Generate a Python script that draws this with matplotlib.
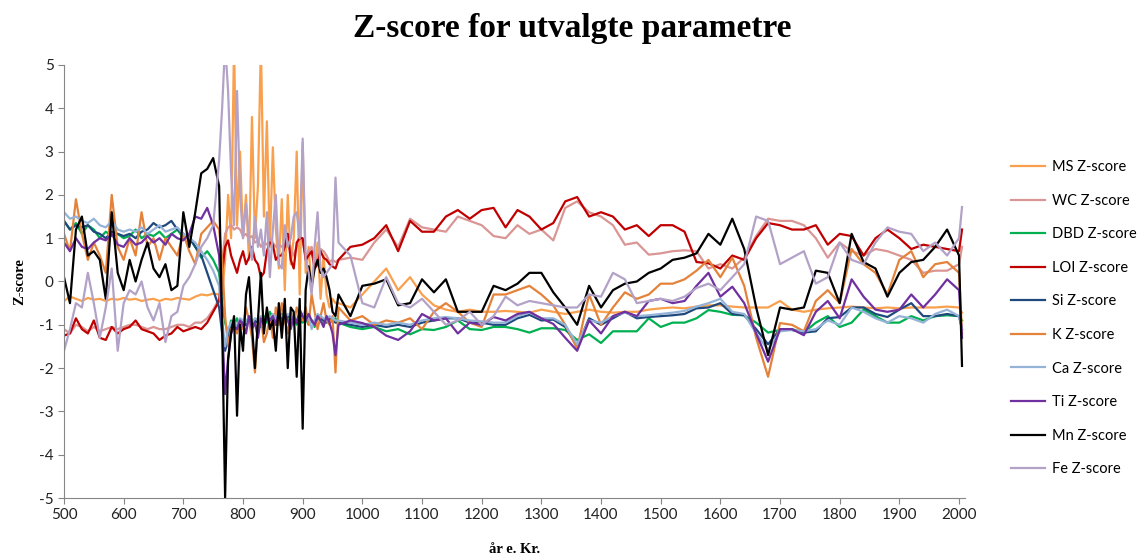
import matplotlib
matplotlib.use("Agg")
import matplotlib.pyplot as plt

plt.rcParams["axes.unicode_minus"] = False

# sample years: dense part up to 760, 5-yr part 765-955, 20-yr part from 960
years = (list(range(500, 761, 10)) + list(range(765, 956, 5))
         + list(range(960, 2001, 20)) + [2005])

ms_z = [-0.45, -0.35, -0.4, -0.45, -0.38, -0.42, -0.4, -0.45, -0.4, -0.42,
        -0.38, -0.42, -0.4, -0.45, -0.42, -0.4, -0.45, -0.4, -0.42, -0.38,
        -0.4, -0.42, -0.35, -0.3, -0.32, -0.28, -0.3,
        -0.3, 0.5, 2.0, 1.0, 5.5, 1.3, 3.0, 1.0, 2.0, 0.5,
        3.8, 1.0, 2.2, 5.5, 1.5, 3.7, 0.8, 3.1, 1.2, 0.3,
        1.9, -0.2, 2.0, 0.4, 1.0, 3.0, -0.3, 3.2, 0.2, 0.8,
        -0.2, 0.3, 0.9, -0.4, 0.6, -0.3, -0.6, -0.4, -0.5,
        -0.5, -0.6, -0.3, 0.0, 0.3, -0.2, 0.1, -0.3, -0.55, -0.65,
        -0.7, -0.65, -0.7, -0.7, -0.68, -0.7, -0.72, -0.65, -0.7, -0.75,
        -0.7, -0.65, -0.7, -0.72, -0.7, -0.7, -0.65, -0.62, -0.6, -0.62,
        -0.58, -0.55, -0.55, -0.58, -0.6, -0.6, -0.6, -0.45, -0.65, -0.7,
        -0.65, -0.62, -0.6, -0.58, -0.6, -0.62, -0.6, -0.62, -0.6, -0.6,
        -0.6, -0.58, -0.6, -0.72]

wc_z = [-1.1, -1.2, -1.0, -1.05, -1.15, -1.05, -1.15, -1.1, -1.05, -1.1,
        -1.05, -1.0, -1.0, -1.05, -1.1, -1.05, -1.1, -1.1, -1.05, -1.0,
        -1.0, -1.05, -0.95, -0.95, -0.85, -0.65, -0.4,
        0.4, 1.1, 1.25, 1.3, 1.2, 1.25, 1.2, 1.05, 1.1, 1.0,
        1.05, 0.9, 0.95, 0.8, 0.9, 0.85, 1.0, 0.9, 0.8, 0.85,
        0.8, 0.9, 1.1, 0.75, 0.6, 0.8, 1.05, 0.9, 0.6, 0.7,
        0.8, 0.5, 0.55, 0.75, 0.7, 0.6, 0.45, 0.5, 0.45,
        0.5, 0.55, 0.5, 0.9, 1.2, 0.8, 1.45, 1.25, 1.2, 1.15,
        1.5, 1.4, 1.3, 1.05, 1.0, 1.3, 1.1, 1.2, 0.95, 1.7,
        1.85, 1.6, 1.5, 1.3, 0.85, 0.9, 0.62, 0.65, 0.7, 0.72,
        0.7, 0.3, 0.4, 0.3, 0.55, 1.05, 1.45, 1.4, 1.4, 1.3,
        1.0, 0.55, 0.9, 0.7, 0.6, 0.75, 0.7, 0.6, 0.5, 0.2,
        0.25, 0.25, 0.4, 0.8]

dbd_z = [1.4, 1.2, 1.35, 1.1, 1.3, 1.2, 1.0, 1.15, 1.05, 1.1,
         1.0, 1.05, 1.2, 1.0, 1.1, 1.05, 1.15, 1.0, 1.1, 1.2,
         1.0, 1.05, 0.8, 0.55, 0.7, 0.5, 0.2,
         -0.5, -0.95, -1.2, -0.9, -1.0, -0.85, -1.1, -0.9, -1.0, -0.8,
         -1.1, -0.9, -0.85, -1.05, -0.8, -0.95, -0.7, -0.85, -1.0, -0.8,
         -0.75, -0.9, -0.8, -1.0, -0.85, -1.0, -0.9, -0.95, -0.85, -1.0,
         -0.9, -1.05, -0.85, -0.9, -1.0, -0.8, -0.95, -0.9, -0.85,
         -0.95, -1.05, -1.1, -1.05, -1.15, -1.1, -1.22, -1.1, -1.12, -1.05,
         -0.9, -1.1, -1.12, -1.05, -1.05, -1.1, -1.18, -1.08, -1.08, -1.12,
         -1.35, -1.22, -1.42, -1.15, -1.15, -1.15, -0.85, -1.05, -0.95, -0.95,
         -0.85, -0.66, -0.7, -0.77, -0.78, -0.95, -1.18, -1.12, -1.1, -1.18,
         -0.95, -0.8, -1.05, -0.95, -0.65, -0.8, -0.95, -0.95, -0.8, -0.9,
         -0.8, -0.78, -0.8, -0.9]

loi_z = [-1.25, -1.2, -0.85, -1.1, -1.2, -0.9, -1.3, -1.35, -1.05, -1.2,
         -1.1, -1.05, -0.9, -1.1, -1.15, -1.2, -1.35, -1.25, -1.2, -1.05,
         -1.15, -1.1, -1.05, -1.1, -0.95, -0.7, -0.45,
         0.2, 0.8, 0.95, 0.6, 0.4, 0.2, 0.5, 0.7, 0.4, 0.55,
         0.8, 0.5, 0.4, 0.1, 0.2, 0.7, 0.9, 0.85, 0.5, 0.6,
         0.6, 0.8, 1.1, 0.5, 0.3, 0.9, 1.0, 1.0, 0.5, 0.6,
         0.7, 0.3, 0.4, 0.7, 0.55, 0.5, 0.4, 0.35, 0.3,
         0.5, 0.8, 0.85, 1.0, 1.3, 0.7, 1.4, 1.15, 1.15, 1.5,
         1.65, 1.45, 1.65, 1.7, 1.25, 1.65, 1.5, 1.2, 1.35, 1.85,
         1.95, 1.5, 1.6, 1.5, 1.2, 1.3, 1.05, 1.3, 1.3, 1.15,
         0.45, 0.42, 0.3, 0.6, 0.5, 1.0, 1.35, 1.3, 1.2, 1.2,
         1.3, 0.85, 1.1, 1.05, 0.6, 1.0, 1.2, 1.0, 0.75, 0.85,
         0.8, 0.75, 0.7, 1.2]

si_z = [1.4, 1.2, 1.3, 1.25, 1.3, 1.15, 1.1, 1.0, 1.15, 1.1,
        1.05, 1.1, 1.0, 1.15, 1.2, 1.35, 1.25, 1.3, 1.4, 1.2,
        1.1, 1.0, 0.8, 0.6, 0.2, -0.2, -0.6,
        -1.2, -1.6, -1.3, -1.0, -0.95, -1.1, -0.9, -0.95, -1.0, -0.85,
        -1.0, -0.9, -0.95, -0.85, -0.95, -0.85, -0.9, -0.8, -0.9, -0.8,
        -0.85, -0.9, -0.8, -0.85, -0.9, -0.95, -0.8, -0.8, -0.9, -0.85,
        -0.9, -0.95, -0.8, -0.85, -0.9, -0.95, -0.85, -0.9, -0.95,
        -0.95, -1.0, -1.05, -1.0, -1.05, -1.0, -1.05, -0.95, -0.9, -0.85,
        -0.85, -0.95, -0.95, -1.0, -1.0, -0.85, -0.77, -0.9, -0.88, -1.05,
        -1.5, -0.85, -1.0, -0.85, -0.7, -0.85, -0.82, -0.8, -0.78, -0.75,
        -0.62, -0.6, -0.5, -0.75, -0.78, -1.1, -1.45, -1.1, -1.12, -1.18,
        -1.15, -0.85, -0.82, -0.6, -0.6, -0.75, -0.82, -0.65, -0.5, -0.8,
        -0.8, -0.75, -0.8, -1.1]

k_z = [1.1, 0.7, 1.9, 1.1, 0.5, 0.9, 0.6, 0.2, 2.0, 0.8,
       0.5, 1.0, 0.6, 1.6, 0.8, 1.0, 0.5, 1.0, 0.8, 0.6,
       1.1, 0.7, 0.4, 1.1, 1.25, 1.4, 1.2,
       0.5, -0.8, -1.5, -1.1, -1.0, -1.2, -0.9, -1.1, -0.6, -0.9,
       -1.3, -2.1, -1.0, -0.8, -1.4, -1.2, -0.8, -1.3, -0.6, -1.0,
       -0.5, -0.9, -1.2, -0.7, -1.0, -0.6, -0.8, -0.9, -0.6, -1.0,
       -0.3, -0.7, -1.1, -0.8, -0.5, -0.9, -1.0, -0.8, -2.1,
       -0.6, -0.9, -0.8, -1.0, -0.9, -0.95, -0.85, -1.1, -0.7, -0.5,
       -0.7, -0.95, -1.05, -0.3, -0.3, -0.2, -0.1, -0.3, -0.55, -1.0,
       -1.55, -0.3, -1.0, -0.6, -0.25, -0.4, -0.3, -0.05, -0.05, 0.05,
       0.25, 0.5, 0.1, 0.55, -0.1, -1.3, -2.2, -0.96, -1.0, -1.15,
       -0.45, -0.2, -0.5, 0.75, 0.4, 0.2, -0.3, 0.5, 0.7, 0.1,
       0.4, 0.45, 0.2, -1.2]

ca_z = [1.6, 1.45, 1.5, 1.4, 1.35, 1.45, 1.3, 1.25, 1.4, 1.2,
        1.15, 1.2, 1.15, 1.25, 1.1, 1.2, 1.3, 1.15, 1.2, 1.25,
        1.1, 1.0, 0.9, 0.7, 0.5, 0.25, -0.1,
        -0.9, -1.5, -1.1, -0.95, -0.9, -1.05, -0.85, -0.9, -0.95, -0.8,
        -0.95, -0.85, -0.9, -0.8, -0.9, -0.8, -0.85, -0.75, -0.85, -0.75,
        -0.8, -0.85, -0.75, -0.8, -0.85, -0.9, -0.75, -0.75, -0.85, -0.8,
        -1.1, -0.9, -0.75, -0.8, -0.85, -0.9, -0.8, -0.85, -0.9,
        -0.9, -0.95, -1.0, -0.95, -1.0, -0.95, -1.0, -0.9, -0.85, -0.82,
        -0.85, -0.9, -0.92, -0.95, -0.95, -0.8, -0.72, -0.85, -0.85, -1.0,
        -1.45, -0.9, -0.95, -0.8, -0.72, -0.8, -0.78, -0.75, -0.72, -0.68,
        -0.58, -0.5, -0.4, -0.7, -0.75, -1.2, -1.58, -1.15, -1.12, -1.15,
        -1.1, -0.9, -1.0, -0.6, -0.7, -0.85, -0.95, -0.8, -0.85, -0.95,
        -0.75, -0.65, -0.8, -1.1]

ti_z = [0.9, 0.7, 1.0, 0.8, 0.75, 0.9, 1.0, 0.95, 1.1, 0.85,
        0.8, 1.0, 0.85, 0.9, 1.05, 0.9, 1.0, 0.85, 1.1, 1.0,
        0.95, 1.1, 1.5, 1.45, 1.7, 1.3, 0.6,
        -1.0, -2.6, -1.8, -1.2, -1.05, -1.1, -0.9, -1.0, -1.2, -0.8,
        -1.1, -0.95, -1.3, -0.85, -1.0, -0.75, -0.9, -0.8, -1.0, -0.7,
        -1.0, -0.75, -0.9, -1.1, -0.8, -0.95, -0.65, -0.8, -0.9, -0.75,
        -0.9, -1.0, -0.8, -0.9, -1.05, -0.8, -0.95, -1.2, -1.7,
        -1.0, -0.9, -0.96, -1.05, -1.25, -1.35, -1.15, -0.75, -0.9, -0.85,
        -1.2, -0.95, -1.0, -0.82, -0.9, -0.75, -0.7, -0.85, -0.98, -1.3,
        -1.6, -0.9, -1.2, -0.8, -0.7, -0.8, -0.45, -0.4, -0.5, -0.45,
        -0.1, 0.2, -0.35, -0.12, -0.5, -1.2, -1.85, -1.1, -1.1, -1.24,
        -0.7, -0.45, -0.85, 0.05, -0.35, -0.65, -0.7, -0.65, -0.3, -0.6,
        -0.3, 0.05, -0.2, -1.3]

mn_z = [0.1, -0.5, 1.2, 1.5, 0.6, 0.7, 0.5, -0.4, 1.6, 0.2,
        -0.2, 0.5, 0.0, 0.5, 0.9, 0.3, 0.1, 0.4, -0.2, -0.1,
        1.6, 0.8, 1.6, 2.5, 2.6, 2.85, 2.2,
        -1.0, -5.0, -1.8, -1.2, -0.8, -3.1, -1.0, -1.6, -0.3, 0.1,
        -1.0, -2.0, -0.9, 0.2, -1.2, -0.6, -1.1, -0.9, -1.6, -0.5,
        -1.3, -0.4, -2.0, -0.6, -0.7, -2.2, -0.4, -3.4, -0.2, 0.35,
        -0.1, 0.3, 0.5, 0.2, 0.3, 0.1, -0.2, -0.7, -0.8,
        -0.3, -0.8, -0.1, -0.05, 0.05, -0.55, -0.5, 0.05, -0.25, 0.05,
        -0.7, -0.7, -0.7, -0.1, -0.2, -0.05, 0.2, 0.2, -0.25, -0.6,
        -1.0, -0.1, -0.6, -0.2, -0.05, 0.0, 0.2, 0.3, 0.5, 0.55,
        0.65, 1.1, 0.85, 1.45, 0.75, -0.6, -1.7, -0.6, -0.65, -0.6,
        0.25, 0.2, -0.5, 1.1, 0.45, 0.3, -0.35, 0.2, 0.45, 0.5,
        0.8, 1.2, 0.6, -1.95]

fe_z = [-1.6, -1.1, -0.5, -0.6, 0.2, -0.5, -1.3, -0.6, 0.3, -1.6,
        -0.5, -0.2, -0.3, 0.0, -0.6, -0.9, -0.5, -1.4, -0.8, -0.7,
        -0.1, 0.1, 0.4, 0.8, 1.0, 1.3, 2.8,
        4.0, 5.5, 4.4, 2.5, 1.3, 4.4, 2.0, 1.0, 1.8, 1.0,
        0.5, 1.5, 0.8, 1.2, 0.6, 1.6, 0.1, 1.2, 2.0, 0.4,
        0.3, 1.3, 0.8, 1.0, 1.5, 1.6, 1.0, 3.3, 0.5, 0.2,
        -0.3, 0.8, 1.6, 0.3, 0.1, 0.2, 0.3, 0.4, 2.4,
        0.9, 0.6, -0.5, -0.6, 0.1, -0.5, -0.6, -0.4, -0.7, -1.0,
        -0.9, -0.7, -1.0, -0.8, -0.35, -0.55, -0.45, -0.5, -0.55, -0.6,
        -0.6, -0.3, -0.35, 0.2, 0.05, -0.5, -0.45, -0.4, -0.45, -0.35,
        -0.15, -0.05, -0.2, 0.1, 0.4, 1.5, 1.4, 0.4, 0.55, 0.7,
        -0.05, 0.1, 0.9, 0.5, 0.4, 0.9, 1.25, 1.15, 1.1, 0.7,
        0.9, 0.6, 1.0, 1.72]

labels = ["MS Z-score", "WC Z-score", "DBD Z-score", "LOI Z-score", "Si Z-score",
          "K Z-score", "Ca Z-score", "Ti Z-score", "Mn Z-score", "Fe Z-score"]
colors = ["#F9A04E", "#D99694", "#00B050", "#C00000", "#1F497D",
          "#E5823A", "#95B3D7", "#7030A0", "#000000", "#B3A2C7"]
series = [ms_z, wc_z, dbd_z, loi_z, si_z, k_z, ca_z, ti_z, mn_z, fe_z]

fig = plt.figure(figsize=(11.45, 5.58), dpi=100)
ax = fig.add_axes([64 / 1145, 1 - 498 / 558, (965 - 64) / 1145, (498 - 65) / 558])

for vals, col, lab in zip(series, colors, labels):
    ax.plot(years, vals, color=col, lw=1.6, label=lab)

ax.set_xlim(500, 2010)
ax.set_ylim(-5, 5)
ax.set_xticks(range(500, 2001, 100))
ax.set_yticks(range(-5, 6))
for s in ["top", "right"]:
    ax.spines[s].set_visible(False)
for s in ["left", "bottom"]:
    ax.spines[s].set_color("#868686")
ax.tick_params(direction="out", length=4, color="#868686", labelsize=11,
               labelcolor="#222222")
for t in ax.get_xticklabels() + ax.get_yticklabels():
    t.set_family("Lato")

fig.text(0.5, 1 - 29 / 558, "Z-score for utvalgte parametre", ha="center", va="center",
         family="Liberation Serif", weight="bold", fontsize=24)
ax.set_xlabel("år e. Kr.", family="Liberation Serif", weight="bold", fontsize=10.5,
              labelpad=15)
ax.set_ylabel("Z-score", family="Liberation Serif", weight="bold", fontsize=10.5,
              labelpad=9)

fig.legend(loc="upper left", bbox_to_anchor=(1004 / 1145, 1 - 153 / 558),
           frameon=False, prop={"family": "Lato", "size": 10.5},
           handlelength=2.3, handletextpad=0.5, labelspacing=1.34, borderpad=0)

fig.savefig("out.png", dpi=100)
